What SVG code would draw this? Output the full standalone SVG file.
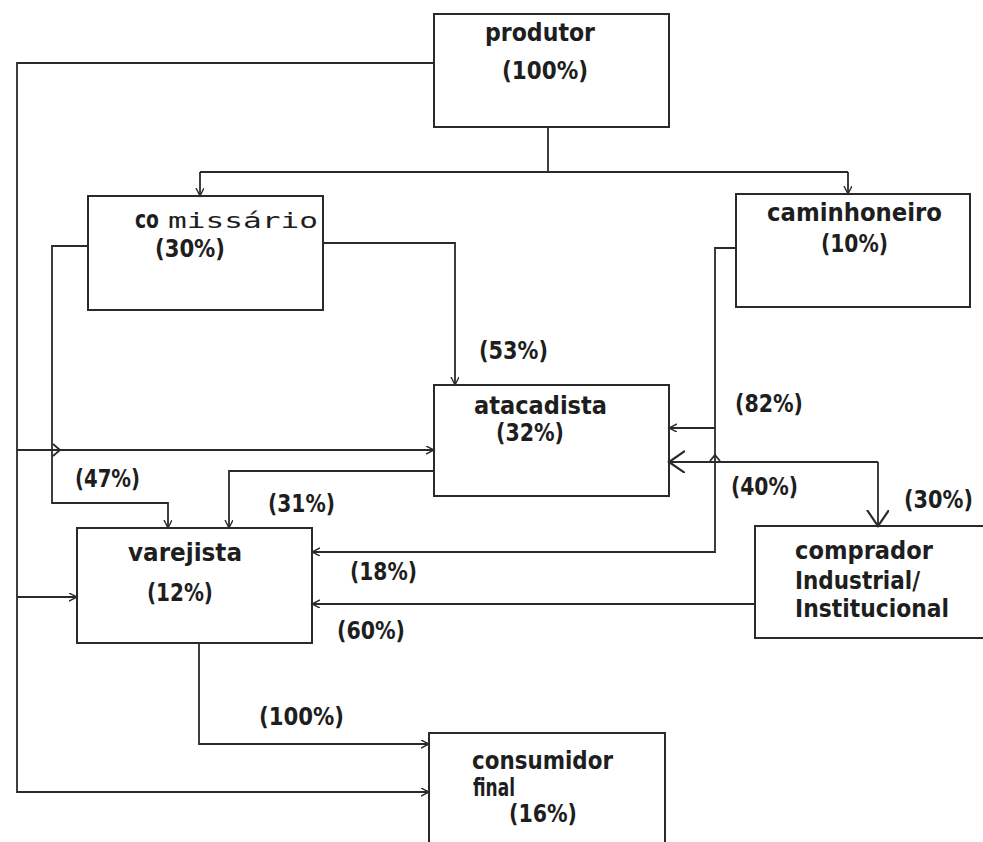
<svg xmlns="http://www.w3.org/2000/svg" width="983" height="842" viewBox="0 0 983 842">
<style>
.box{fill:none;stroke:#2a2a2a;stroke-width:2}
.ln{fill:none;stroke:#2a2a2a;stroke-width:1.8}
.t{font-family:"DejaVu Sans Condensed","Liberation Sans Narrow","Liberation Sans",sans-serif;font-weight:bold;fill:#1e1e1e;font-size:24px}
.m{font-family:"DejaVu Sans Mono","Liberation Mono",monospace;fill:#1e1e1e;font-size:22px}
</style>
<defs>
<marker id="a" markerUnits="userSpaceOnUse" markerWidth="10" markerHeight="10" refX="8" refY="4" orient="auto">
<path d="M0,0 L8,4 L0,8" fill="none" stroke="#2a2a2a" stroke-width="1.4"/>
</marker>
<marker id="b" markerUnits="userSpaceOnUse" markerWidth="20" markerHeight="26" refX="16" refY="11" orient="auto">
<path d="M0,0 L16,11 L0,22" fill="none" stroke="#2a2a2a" stroke-width="2.2"/>
</marker>
</defs>
<rect width="983" height="842" fill="#fff"/>
<g id="connectors">
<path class="ln" d="M434,63 H17 V792 H429" marker-end="url(#a)"/>
<path class="ln" d="M17,450 H434" marker-end="url(#a)"/>
<path class="ln" d="M17,597 H77" marker-end="url(#a)"/>
<path class="ln" d="M548,127 V172"/>
<path class="ln" d="M200,172 H848"/>
<path class="ln" d="M200,172 V196" marker-end="url(#a)"/>
<path class="ln" d="M848,172 V194" marker-end="url(#a)"/>
<path class="ln" d="M323,243 H455 V385" marker-end="url(#a)"/>
<path class="ln" d="M88,246 H52 V503 H168 V528" marker-end="url(#a)"/>
<path class="ln" d="M53,444 L60,450 L53,456"/>
<path class="ln" d="M434,471 H229 V528" marker-end="url(#a)"/>
<path class="ln" d="M736,248 H715 V552 H312" marker-end="url(#a)"/>
<path class="ln" d="M715,428 H669" marker-end="url(#a)"/>
<path class="ln" d="M878,462 H669" marker-end="url(#b)"/>
<path class="ln" d="M878,462 V526" marker-end="url(#b)"/>
<path class="ln" d="M710,461 L715,455 L720,461"/>
<path class="ln" d="M755,604 H312" marker-end="url(#a)"/>
<path class="ln" d="M199,643 V744 H429" marker-end="url(#a)"/>
</g>
<g id="produtor">
<rect class="box" x="434" y="14" width="235" height="113"/>
<text class="t" x="485" y="41" textLength="110" lengthAdjust="spacingAndGlyphs">produtor</text>
<text class="t" x="502" y="79" font-size="28" textLength="86" lengthAdjust="spacingAndGlyphs">(100%)</text>
</g>
<g id="comissario">
<rect class="box" x="88" y="196" width="235" height="114"/>
<text x="135" y="228"><tspan class="t" font-size="16" textLength="24" lengthAdjust="spacingAndGlyphs">co</tspan><tspan class="m" x="168" textLength="150" lengthAdjust="spacingAndGlyphs">missário</tspan></text>
<text class="t" x="155" y="257" font-size="21" textLength="70" lengthAdjust="spacingAndGlyphs">(30%)</text>
</g>
<g id="caminhoneiro">
<rect class="box" x="736" y="194" width="234" height="113"/>
<text class="t" x="767" y="221" textLength="175" lengthAdjust="spacingAndGlyphs">caminhoneiro</text>
<text class="t" x="821" y="252" textLength="67" lengthAdjust="spacingAndGlyphs">(10%)</text>
</g>
<g id="atacadista">
<rect class="box" x="434" y="385" width="235" height="111"/>
<text class="t" x="474" y="414" font-size="22" textLength="133" lengthAdjust="spacingAndGlyphs">atacadista</text>
<text class="t" x="496" y="441" font-size="22" textLength="68" lengthAdjust="spacingAndGlyphs">(32%)</text>
</g>
<g id="varejista">
<rect class="box" x="77" y="528" width="235" height="115"/>
<text class="t" x="128" y="561" textLength="114" lengthAdjust="spacingAndGlyphs">varejista</text>
<text class="t" x="147" y="601" textLength="66" lengthAdjust="spacingAndGlyphs">(12%)</text>
</g>
<g id="comprador">
<rect class="box" x="755" y="526" width="240" height="112"/>
<text class="t" x="795" y="559" textLength="138" lengthAdjust="spacingAndGlyphs">comprador</text>
<text class="t" x="795" y="589" textLength="125" lengthAdjust="spacingAndGlyphs">Industrial/</text>
<text class="t" x="795" y="617" textLength="154" lengthAdjust="spacingAndGlyphs">Institucional</text>
</g>
<g id="consumidor">
<rect class="box" x="429" y="733" width="236" height="120"/>
<text class="t" x="472" y="769" font-size="19" textLength="141" lengthAdjust="spacingAndGlyphs">consumidor</text>
<text class="t" x="473" y="796" font-size="19" textLength="42" lengthAdjust="spacingAndGlyphs">final</text>
<text class="t" x="509" y="822" font-size="22" textLength="68" lengthAdjust="spacingAndGlyphs">(16%)</text>
</g>
<g id="labels">
<text class="t" x="479" y="359" textLength="69" lengthAdjust="spacingAndGlyphs">(53%)</text>
<text class="t" x="735" y="412" textLength="68" lengthAdjust="spacingAndGlyphs">(82%)</text>
<text class="t" x="75" y="487" textLength="65" lengthAdjust="spacingAndGlyphs">(47%)</text>
<text class="t" x="268" y="512" textLength="67" lengthAdjust="spacingAndGlyphs">(31%)</text>
<text class="t" x="731" y="495" textLength="67" lengthAdjust="spacingAndGlyphs">(40%)</text>
<text class="t" x="904" y="508" textLength="69" lengthAdjust="spacingAndGlyphs">(30%)</text>
<text class="t" x="350" y="580" textLength="67" lengthAdjust="spacingAndGlyphs">(18%)</text>
<text class="t" x="337" y="639" textLength="68" lengthAdjust="spacingAndGlyphs">(60%)</text>
<text class="t" x="259" y="725" textLength="85" lengthAdjust="spacingAndGlyphs">(100%)</text>
</g>
</svg>
